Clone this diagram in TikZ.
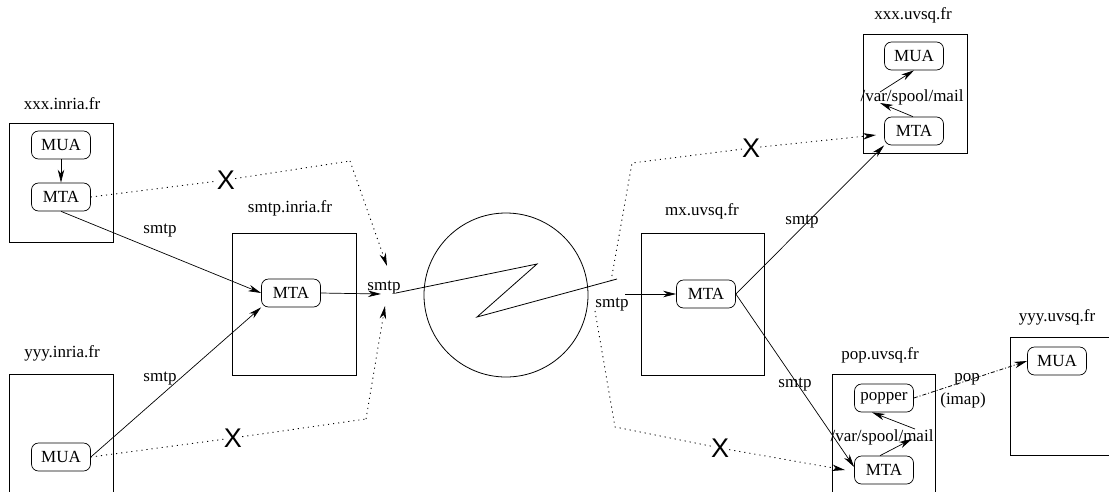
\documentclass[tikz,border=0pt]{standalone}
\usepackage{fontspec}
\setmainfont{Liberation Serif}
\newfontfamily\xfont{Liberation Sans}
\usetikzlibrary{arrows.meta}
\begin{document}
\begin{tikzpicture}[x=1pt,y=-1pt,
  lbl/.style={font=\fontsize{17}{17}\selectfont, inner sep=0pt},
  prog/.style={draw, line width=0.7pt, rounded corners=7pt, minimum width=59pt, minimum height=28pt, inner sep=0pt, font=\fontsize{17}{17}\selectfont},
  host/.style={draw, line width=0.8pt, inner sep=0pt},
  arr/.style={line width=0.7pt, -{Stealth[length=13pt,width=6.5pt,inset=4pt]}},
  dots/.style={line width=0.9pt, dash pattern=on 1.1pt off 4pt},
  dashdot/.style={line width=0.8pt, dash pattern=on 4pt off 2pt on 1pt off 2pt},
  cross/.style={font=\xfont\fontsize{27}{27}\selectfont, inner sep=0pt}
]
\useasboundingbox (0,0) rectangle (1109,491);
\begin{scope}
\clip (0,0) rectangle (1109,491);
% hosts
\node[host, minimum width=104pt, minimum height=119pt] (hxi) at (61,182.5) {};
\node[host, minimum width=104pt, minimum height=140pt] (hyi) at (61,444) {};
\node[host, minimum width=124pt, minimum height=142pt] (hsi) at (294,304) {};
\node[host, minimum width=123pt, minimum height=142pt] (hmx) at (702.5,304) {};
\node[host, minimum width=104pt, minimum height=119pt] (hxu) at (915,93.5) {};
\node[host, minimum width=103pt, minimum height=140pt] (hpop) at (883.5,444) {};
\node[host, minimum width=130pt, minimum height=118pt] (hyu) at (1075,396) {};
\end{scope}
% host labels
\node[lbl] (lxi) at (62,104) {xxx.inria.fr};
\node[lbl] (lyi) at (62,353) {yyy.inria.fr};
\node[lbl] (lsi) at (290,208) {smtp.inria.fr};
\node[lbl] (lmx) at (702,211) {mx.uvsq.fr};
\node[lbl] (lxu) at (913,15) {xxx.uvsq.fr};
\node[lbl] (lpop) at (880,355) {pop.uvsq.fr};
\node[lbl] (lyu) at (1057,317) {yyy.uvsq.fr};
% programs
\node[prog] (muaxi) at (61,145) {MUA};
\node[prog] (mtaxi) at (61,197) {MTA};
\node[prog] (muayi) at (61,457) {MUA};
\node[prog] (mtasi) at (291,293) {MTA};
\node[prog] (mtamx) at (706,294) {MTA};
\node[prog] (muaxu) at (914,56) {MUA};
\node[prog] (mtaxu) at (914,131) {MTA};
\node[prog] (popper) at (884,398) {popper};
\node[prog] (mtapop) at (884,470) {MTA};
\node[prog] (muayu) at (1057,361) {MUA};
% internet
\draw[line width=0.8pt] (506,295) circle[radius=82];
\coordinate (zin) at (396,293);
\coordinate (zout) at (617,279);
\draw[line width=0.8pt] (zin) -- (537,264) -- (477,317) -- (zout);
% labels on links
\node[lbl] (s1) at (160,231) {smtp};
\node[lbl] (s2) at (160,379) {smtp};
\node[lbl] (s3) at (384,288) {smtp};
\node[lbl] (s4) at (612,305) {smtp};
\node[lbl] (s5) at (802,222) {smtp};
\node[lbl] (s6) at (795,385) {smtp};
\node[lbl] (vsx) at (912,97) {/var/spool/mail};
\node[lbl] (vsp) at (882,437) {/var/spool/mail};
\node[lbl] (pop) at (967,379) {pop};
\node[lbl] (imap) at (963,400) {(imap)};
% crosses
\node[cross] (x1) at (226,180) {X};
\node[cross] (x2) at (233,438) {X};
\node[cross] (x3) at (751,148) {X};
\node[cross] (x4) at (720,448) {X};
% coordinates
\coordinate (inUp) at (387,266);
\coordinate (inDn) at (385,306);
\coordinate (outUp) at (611,281);
\coordinate (outDn) at (595,311);
\coordinate (endXu) at (876,135);
\coordinate (endPop) at (845,470);
\coordinate (vsxA) at (880,103);
\coordinate (vsxB) at (880,92);
\coordinate (vspA) at (912,439);
\coordinate (vspB) at (915,429);
% connectors
\draw[arr] (muaxi) -- (mtaxi);
\draw[arr] (mtaxi.south) -- (mtasi.west);
\draw[arr] (muayi.east) -- (mtasi.south west);
\draw[arr] (mtasi.east) -- (381,294);
\draw[arr] (625,294) -- (mtamx.west);
\draw[arr] (mtamx.east) -- (mtaxu.south west);
\draw[arr] (mtamx.east) -- ([yshift=3pt]mtapop.west);
\draw[dots] (mtaxi.east) -- (x1) -- (350,161);
\draw[arr, dots] (350,161) -- (inUp);
\draw[dots] (muayi.east) -- (x2) -- (366,419);
\draw[arr, dots] (366,419) -- (inDn);
\draw[dots] (outUp) -- (632,163) -- (x3);
\draw[arr, dots] (x3) -- (endXu);
\draw[dots] (outDn) -- (615,427) -- (x4);
\draw[arr, dots] (x4) -- (endPop);
\draw[arr] ([xshift=-1pt]mtaxu.north) -- (vsxA);
\draw[arr] (vsxB) -- (muaxu.south);
\draw[arr] ([xshift=-4pt]mtapop.north) -- (vspA);
\draw[arr] (vspB) -- ([xshift=-12pt]popper.south);
\draw[arr, dashdot] (popper.east) -- (muayu.west);
\end{tikzpicture}
\end{document}
